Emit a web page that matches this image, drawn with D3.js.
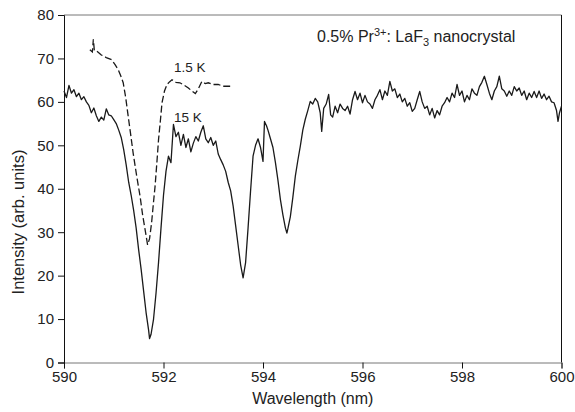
<!DOCTYPE html>
<html><head><meta charset="utf-8">
<script src="https://cdn.jsdelivr.net/npm/d3@7"></script>
<style>body{margin:0;background:#fff}svg{display:block}text{font-family:"Liberation Sans",Arial,sans-serif;fill:#222}</style>
</head><body><svg id="c" width="575" height="412"></svg>
<script>
const xTicks = [590, 592, 594, 596, 598, 600];
const yTicks = [0, 10, 20, 30, 40, 50, 60, 70, 80];

const wl15 = [590.00,590.05,590.10,590.15,590.20,590.25,590.30,590.35,590.40,590.45,590.50,590.55,590.60,590.65,590.70,590.75,590.80,590.85,590.90,590.95,
591.00,591.05,591.10,591.15,591.20,591.25,591.30,591.35,591.40,591.45,591.50,591.55,591.60,591.65,591.70,591.72,591.75,591.80,591.85,591.90,591.95,
592.00,592.05,592.10,592.15,592.20,592.25,592.30,592.35,592.40,592.45,592.50,592.55,592.60,592.65,592.70,592.75,592.80,592.85,592.90,592.95,
593.00,593.05,593.10,593.15,593.20,593.25,593.30,593.35,593.40,593.45,593.50,593.55,593.60,593.65,593.70,593.75,593.80,593.85,593.90,593.95,
594.00,594.03,594.07,594.10,594.15,594.20,594.25,594.30,594.35,594.40,594.45,594.48,594.50,594.55,594.60,594.65,594.70,594.75,594.80,594.85,594.90,594.95,
595.00,595.05,595.10,595.15,595.18,595.22,595.27,595.32,595.36,595.40,595.45,595.50,595.55,595.60,595.65,595.70,595.75,595.80,595.85,595.90,595.95,
596.00,596.05,596.10,596.15,596.20,596.25,596.30,596.35,596.40,596.45,596.50,596.55,596.60,596.65,596.70,596.75,596.80,596.85,596.90,596.95,
597.00,597.05,597.10,597.15,597.20,597.25,597.30,597.35,597.40,597.45,597.50,597.55,597.60,597.65,597.70,597.75,597.80,597.85,597.90,597.95,
598.00,598.05,598.10,598.15,598.20,598.25,598.30,598.35,598.40,598.45,598.50,598.55,598.60,598.65,598.70,598.75,598.80,598.85,598.90,598.95,
599.00,599.05,599.10,599.15,599.20,599.25,599.30,599.35,599.40,599.45,599.50,599.55,599.60,599.65,599.70,599.75,599.80,599.85,599.90,599.93,599.96,600.00];
const int15 = [62.5,61.0,63.8,62.0,62.8,61.2,62.0,60.5,61.2,60.0,59.2,57.5,58.6,56.8,55.5,56.5,55.8,58.4,57.0,56.8,
55.9,55.0,53.5,51.8,49.0,45.5,41.5,38.5,35.0,31.0,26.0,21.5,16.5,11.5,7.5,5.5,6.5,10.0,16.0,23.0,31.0,
38.5,44.0,47.5,46.0,54.8,52.0,53.0,50.0,52.5,49.5,51.5,48.5,50.5,52.0,51.0,53.0,54.5,51.5,50.6,51.8,
50.0,51.0,48.0,46.7,45.5,44.0,41.5,39.5,36.0,31.5,27.0,22.5,19.5,23.0,31.0,39.5,47.5,50.0,51.5,49.5,
46.3,55.5,54.5,53.5,51.5,49.5,46.0,42.0,37.5,34.0,31.0,29.8,30.8,33.6,38.0,42.9,46.5,49.8,53.5,56.0,58.0,60.1,
59.5,60.8,60.0,57.5,53.2,58.5,59.5,61.7,57.0,56.5,59.0,57.5,59.5,58.5,58.0,59.0,57.2,60.5,62.4,60.5,62.0,
59.8,61.5,60.0,59.5,58.5,60.5,61.5,62.8,60.5,62.5,61.5,64.7,62.5,63.0,61.0,61.8,60.0,60.8,59.0,59.8,
57.8,58.5,60.5,62.4,60.0,58.5,59.0,57.0,58.5,56.3,58.0,57.0,59.0,59.8,61.0,60.0,62.0,61.0,64.0,61.5,
62.5,60.0,61.5,60.5,63.0,62.0,61.5,63.5,64.5,65.9,64.0,62.0,60.5,62.5,63.5,65.9,63.0,62.5,61.3,62.5,
61.5,63.5,62.5,63.2,61.5,62.5,60.5,62.0,61.0,62.4,61.0,62.5,60.8,61.8,60.5,61.3,60.0,59.8,58.0,55.5,57.5,59.0];

const wl1p5 = [590.52,590.57,590.59,590.61,590.66,590.75,590.85,590.96,591.03,591.09,591.14,591.19,591.24,591.29,591.34,591.39,591.46,591.53,591.58,591.63,591.68,591.72,591.76,591.80,591.83,591.87,591.90,591.94,591.97,592.02,592.07,592.12,592.17,592.25,592.33,592.42,592.50,592.57,592.64,592.70,592.77,592.84,592.90,593.00,593.10,593.20,593.34];
const int1p5 = [72.0,71.5,74.4,71.8,71.7,70.8,70.2,69.7,68.5,67.4,66.0,64.4,61.0,56.7,52.5,48.2,43.0,38.2,34.0,30.6,27.1,28.5,32.1,37.0,40.5,46.5,51.3,56.0,59.8,62.5,64.0,64.6,65.1,64.5,64.4,63.8,63.2,62.5,61.9,63.0,64.7,64.2,64.4,64.0,64.0,63.6,63.6];

const svg = d3.select("#c");
const L = 64, R = 561.5, T = 15, B = 362.5;
const x = d3.scaleLinear().domain([590, 600]).range([L, R]);
const y = d3.scaleLinear().domain([0, 80]).range([B, T]);

svg.append("line").attr("x1", L).attr("x2", R).attr("y1", T).attr("y2", T).attr("stroke", "#777").attr("stroke-width", 1);
svg.append("line").attr("x1", R).attr("x2", R).attr("y1", T).attr("y2", B).attr("stroke", "#111").attr("stroke-width", 1);

const gx = svg.append("g").attr("transform", `translate(0,${B})`)
  .call(d3.axisBottom(x).tickValues(xTicks).tickSize(6).tickPadding(3).tickFormat(d3.format("d")));
const gy = svg.append("g").attr("transform", `translate(${L},0)`)
  .call(d3.axisLeft(y).tickValues(yTicks).tickSize(6).tickPadding(4).tickFormat(d3.format("d")));
[gx, gy].forEach(g => {
  g.selectAll("path").attr("stroke", "#111");
  g.selectAll("line").attr("stroke", "#111");
  g.selectAll("text").attr("font-size", 15).attr("fill", "#222").style("font-family", '"Liberation Sans",Arial,sans-serif');
});
gx.select("path").attr("stroke", "#777");

const line = d3.line().x(d => x(d[0])).y(d => y(d[1]));
svg.append("path").datum(wl15.map((w, i) => [w, int15[i]]))
  .attr("d", line).attr("fill", "none").attr("stroke", "#1a1a1a").attr("stroke-width", 1.3).attr("stroke-linejoin", "round");
svg.append("path").datum(wl1p5.map((w, i) => [w, int1p5[i]]))
  .attr("d", line).attr("fill", "none").attr("stroke", "#1a1a1a").attr("stroke-width", 1.3).attr("stroke-dasharray", "7,3");

svg.append("text").attr("x", 174).attr("y", 72).attr("font-size", 13.5).text("1.5 K");
svg.append("text").attr("x", 174).attr("y", 122).attr("font-size", 13.5).text("15 K");

const title = svg.append("text").attr("x", 317).attr("y", 42).attr("font-size", 16);
title.append("tspan").text("0.5% Pr");
title.append("tspan").attr("dy", -6).attr("font-size", 11).text("3+");
title.append("tspan").attr("dy", 6).text(": LaF");
title.append("tspan").attr("dy", 4).attr("font-size", 11).text("3");
title.append("tspan").attr("dy", -4).text(" nanocrystal");

svg.append("text").attr("x", (L + R) / 2).attr("y", 404).attr("text-anchor", "middle").attr("font-size", 16).text("Wavelength (nm)");
svg.append("text").attr("transform", "translate(24,222) rotate(-90)").attr("text-anchor", "middle").attr("font-size", 16.5).text("Intensity (arb. units)");
</script></body></html>
